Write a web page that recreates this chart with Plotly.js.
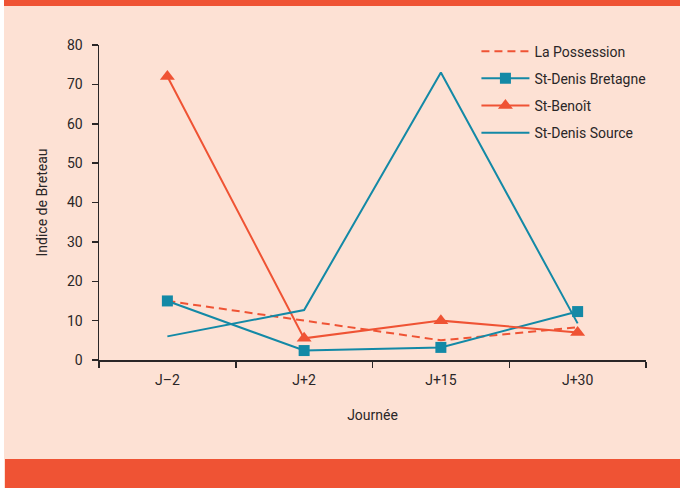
<!DOCTYPE html>
<html>
<head>
<meta charset="utf-8">
<script src="https://cdn.plot.ly/plotly-3.0.1.min.js"></script>
<style>
  html, body { margin:0; padding:0; background:#ffffff; }
  #wrap { position:relative; width:680px; height:488px; background:#ffffff; overflow:hidden; }
  #panel { position:absolute; left:4px; top:0; width:676px; height:488px; background:#fde1d4; }
  #topband { position:absolute; left:4px; top:0; width:676px; height:6px; background:#ef5334; }
  #botband { position:absolute; left:5px; top:459px; width:675px; height:29px; background:#ef5334; }
  #chart { position:absolute; left:0; top:0; width:680px; height:488px; }
</style>
</head>
<body>
<div id="wrap">
  <div id="panel"></div>
  <div id="topband"></div>
  <div id="botband"></div>
  <div id="chart"></div>
</div>
<script>
const days = ["J\u20132", "J+2", "J+15", "J+30"];
const laPossession = [15, 10, 5, 8.3];
const stDenisBretagne = [15, 2.4, 3.2, 12.3];
const stBenoit = [72, 5.5, 10, 7];
const stDenisSource = [6, 12.7, 73, 9.3];

const orange = "#ef5334";
const teal = "#1389a6";
const ink = "#2a2627";
const font = "Roboto, 'Open Sans', sans-serif";

const traces = [
  { x: days, y: laPossession, name: "La Possession", type: "scatter", mode: "lines",
    line: { color: orange, width: 2, dash: "8px,5px" }, legendgroup: "a", cliponaxis: false },
  { x: days, y: stDenisBretagne, name: "St-Denis Bretagne", type: "scatter", mode: "lines+markers",
    line: { color: teal, width: 2 }, marker: { symbol: "square", size: 11, color: teal }, legendgroup: "b", cliponaxis: false },
  { x: days, y: stBenoit, name: "St-Beno\u00eet", type: "scatter", mode: "lines+markers",
    line: { color: orange, width: 2 }, marker: { symbol: "triangle-up", size: 13, color: orange }, legendgroup: "c", cliponaxis: false },
  { x: days, y: stDenisSource, name: "St-Denis Source", type: "scatter", mode: "lines",
    line: { color: teal, width: 2 }, legendgroup: "d", cliponaxis: false }
];

const layout = {
  width: 680, height: 488,
  margin: { l: 99, r: 34, t: 45, b: 128, pad: 0 },
  paper_bgcolor: "rgba(0,0,0,0)",
  plot_bgcolor: "rgba(0,0,0,0)",
  font: { family: font, size: 14, color: ink },
  showlegend: true,
  legend: {
    x: 0.69, y: 1.03, xanchor: "left", yanchor: "top",
    bgcolor: "rgba(0,0,0,0)", borderwidth: 0,
    font: { family: font, size: 14, color: ink },
    itemwidth: 48,
    traceorder: "grouped", tracegroupgap: 6
  },
  xaxis: {
    type: "category", range: [-0.5, 3.5],
    showgrid: false, zeroline: false,
    showline: true, linecolor: ink, linewidth: 1.5,
    ticks: "outside", ticklen: 6, tickwidth: 1.5, tickcolor: ink,
    tickson: "boundaries",
    ticklabelstandoff: 7,
    tickfont: { family: font, size: 14, color: ink },
    title: { text: "Journ\u00e9e", font: { family: font, size: 14, color: ink }, standoff: 23 },
    fixedrange: true
  },
  yaxis: {
    range: [0, 80], dtick: 10,
    showgrid: false, zeroline: false,
    showline: true, linecolor: ink, linewidth: 1.5,
    ticks: "outside", ticklen: 6, tickwidth: 1.5, tickcolor: ink,
    tickfont: { family: font, size: 14, color: ink },
    ticklabelstandoff: 6,
    title: { text: "Indice de Breteau", font: { family: font, size: 14, color: ink }, standoff: 16 },
    fixedrange: true
  }
};

Plotly.newPlot("chart", traces, layout, { displayModeBar: false, staticPlot: true });
</script>
</body>
</html>
